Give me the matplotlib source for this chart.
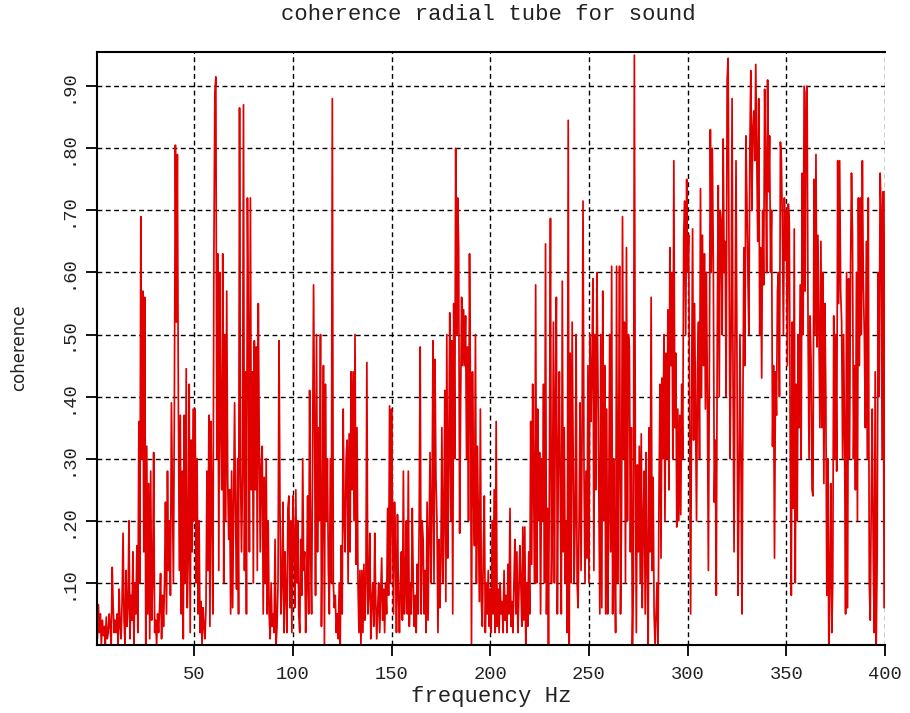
import numpy as np
import matplotlib
matplotlib.use("Agg")
import matplotlib.pyplot as plt

# coherence, 0.5 Hz steps, 10 Hz per row
coh_rows = [
    [0.06, 0.01, 0.065, 0.02, 0.05, 0.0, 0.04, 0.015, 0.03, 0.0, 0.045, 0.01, 0.02, 0.05, 0.03, 0.0, 0.125, 0.06, 0.02, 0.04],
    [0.02, 0.05, 0.0, 0.09, 0.03, 0.01, 0.07, 0.18, 0.04, 0.0, 0.12, 0.03, 0.06, 0.2, 0.01, 0.08, 0.04, 0.15, 0.0, 0.1],
    [0.05, 0.16, 0.02, 0.36, 0.1, 0.69, 0.3, 0.57, 0.15, 0.56, 0.0, 0.32, 0.05, 0.26, 0.01, 0.28, 0.04, 0.1, 0.31, 0.02],
    [0.04, 0.0, 0.05, 0.02, 0.06, 0.115, 0.01, 0.08, 0.03, 0.1, 0.23, 0.05, 0.28, 0.12, 0.2, 0.08, 0.39, 0.25, 0.1, 0.39],
    [0.805, 0.52, 0.79, 0.4, 0.12, 0.37, 0.05, 0.28, 0.01, 0.37, 0.1, 0.445, 0.06, 0.14, 0.42, 0.02, 0.33, 0.15, 0.38, 0.2],
    [0.38, 0.1, 0.3, 0.05, 0.2, 0.02, 0.07, 0.0, 0.06, 0.03, 0.01, 0.06, 0.28, 0.12, 0.37, 0.03, 0.36, 0.22, 0.05, 0.62],
    [0.89, 0.915, 0.3, 0.63, 0.12, 0.6, 0.35, 0.25, 0.63, 0.1, 0.5, 0.2, 0.57, 0.27, 0.17, 0.25, 0.05, 0.28, 0.06, 0.22],
    [0.39, 0.2, 0.09, 0.3, 0.05, 0.865, 0.28, 0.15, 0.27, 0.87, 0.12, 0.44, 0.05, 0.72, 0.5, 0.15, 0.72, 0.25, 0.44, 0.1],
    [0.49, 0.25, 0.48, 0.12, 0.55, 0.32, 0.15, 0.29, 0.32, 0.05, 0.27, 0.1, 0.3, 0.05, 0.2, 0.05, 0.01, 0.1, 0.03, 0.05],
    [0.02, 0.17, 0.0, 0.03, 0.1, 0.49, 0.22, 0.05, 0.1, 0.23, 0.02, 0.15, 0.08, 0.02, 0.22, 0.24, 0.06, 0.2, 0.02, 0.24],
    [0.18, 0.06, 0.25, 0.1, 0.2, 0.05, 0.02, 0.17, 0.08, 0.3, 0.12, 0.15, 0.02, 0.1, 0.24, 0.05, 0.41, 0.15, 0.05, 0.3],
    [0.58, 0.35, 0.08, 0.5, 0.15, 0.35, 0.2, 0.5, 0.03, 0.2, 0.45, 0.0, 0.42, 0.2, 0.3, 0.12, 0.05, 0.3, 0.1, 0.88],
    [0.1, 0.06, 0.08, 0.02, 0.05, 0.01, 0.1, 0.0, 0.16, 0.05, 0.38, 0.2, 0.15, 0.3, 0.33, 0.1, 0.34, 0.15, 0.44, 0.25],
    [0.44, 0.2, 0.5, 0.13, 0.35, 0.1, 0.02, 0.12, 0.0, 0.12, 0.02, 0.13, 0.04, 0.1, 0.455, 0.05, 0.08, 0.18, 0.01, 0.07],
    [0.1, 0.03, 0.18, 0.07, 0.01, 0.06, 0.1, 0.02, 0.08, 0.14, 0.04, 0.09, 0.02, 0.1, 0.05, 0.22, 0.08, 0.385, 0.1, 0.38],
    [0.2, 0.05, 0.23, 0.15, 0.02, 0.21, 0.08, 0.02, 0.1, 0.15, 0.04, 0.28, 0.05, 0.1, 0.2, 0.05, 0.28, 0.03, 0.1, 0.05],
    [0.22, 0.1, 0.03, 0.08, 0.02, 0.13, 0.05, 0.2, 0.48, 0.05, 0.2, 0.17, 0.05, 0.12, 0.02, 0.23, 0.04, 0.18, 0.31, 0.1],
    [0.22, 0.49, 0.1, 0.46, 0.27, 0.2, 0.02, 0.17, 0.06, 0.14, 0.35, 0.1, 0.2, 0.41, 0.07, 0.5, 0.14, 0.3, 0.535, 0.2],
    [0.49, 0.05, 0.55, 0.3, 0.8, 0.5, 0.72, 0.64, 0.18, 0.39, 0.56, 0.45, 0.54, 0.45, 0.53, 0.3, 0.48, 0.2, 0.63, 0.4],
    [0.0, 0.44, 0.25, 0.16, 0.5, 0.1, 0.32, 0.2, 0.07, 0.38, 0.07, 0.03, 0.15, 0.24, 0.02, 0.1, 0.05, 0.12, 0.03, 0.09],
    [0.02, 0.2, 0.05, 0.25, 0.02, 0.36, 0.03, 0.09, 0.02, 0.1, 0.05, 0.07, 0.02, 0.12, 0.04, 0.08, 0.02, 0.13, 0.05, 0.22],
    [0.03, 0.07, 0.02, 0.1, 0.17, 0.05, 0.15, 0.02, 0.08, 0.16, 0.1, 0.03, 0.19, 0.04, 0.19, 0.0, 0.1, 0.03, 0.15, 0.05],
    [0.36, 0.13, 0.42, 0.25, 0.1, 0.58, 0.1, 0.38, 0.2, 0.31, 0.05, 0.3, 0.2, 0.42, 0.1, 0.646, 0.05, 0.22, 0.0, 0.3],
    [0.687, 0.1, 0.2, 0.52, 0.1, 0.4, 0.56, 0.05, 0.3, 0.44, 0.23, 0.05, 0.586, 0.15, 0.35, 0.1, 0.2, 0.02, 0.845, 0.0],
    [0.47, 0.1, 0.52, 0.3, 0.1, 0.2, 0.5, 0.1, 0.06, 0.2, 0.39, 0.12, 0.33, 0.715, 0.28, 0.1, 0.28, 0.14, 0.45, 0.1],
    [0.5, 0.36, 0.45, 0.59, 0.12, 0.5, 0.25, 0.6, 0.45, 0.25, 0.05, 0.5, 0.06, 0.57, 0.2, 0.45, 0.05, 0.38, 0.05, 0.2],
    [0.5, 0.15, 0.61, 0.05, 0.3, 0.15, 0.02, 0.61, 0.1, 0.3, 0.61, 0.05, 0.2, 0.69, 0.3, 0.52, 0.1, 0.64, 0.2, 0.5],
    [0.48, 0.15, 0.35, 0.0, 0.1, 0.95, 0.3, 0.02, 0.29, 0.15, 0.32, 0.1, 0.34, 0.06, 0.2, 0.28, 0.05, 0.31, 0.12, 0.0],
    [0.35, 0.15, 0.56, 0.12, 0.27, 0.05, 0.0, 0.05, 0.1, 0.0, 0.25, 0.42, 0.14, 0.43, 0.3, 0.5, 0.2, 0.47, 0.3, 0.54],
    [0.25, 0.64, 0.45, 0.6, 0.3, 0.78, 0.35, 0.47, 0.19, 0.38, 0.2, 0.37, 0.21, 0.42, 0.3, 0.66, 0.715, 0.5, 0.75, 0.6],
    [0.66, 0.35, 0.05, 0.4, 0.67, 0.33, 0.55, 0.38, 0.2, 0.45, 0.52, 0.3, 0.735, 0.4, 0.66, 0.45, 0.63, 0.38, 0.6, 0.4],
    [0.12, 0.45, 0.83, 0.6, 0.8, 0.62, 0.23, 0.33, 0.08, 0.5, 0.74, 0.4, 0.7, 0.68, 0.5, 0.815, 0.6, 0.65, 0.4, 0.91],
    [0.945, 0.6, 0.3, 0.5, 0.88, 0.42, 0.15, 0.5, 0.78, 0.45, 0.08, 0.25, 0.5, 0.3, 0.05, 0.4, 0.64, 0.45, 0.82, 0.72],
    [0.6, 0.5, 0.8, 0.925, 0.7, 0.83, 0.86, 0.78, 0.935, 0.8, 0.65, 0.88, 0.5, 0.64, 0.43, 0.7, 0.58, 0.895, 0.78, 0.6],
    [0.91, 0.73, 0.82, 0.6, 0.7, 0.32, 0.45, 0.14, 0.44, 0.37, 0.57, 0.6, 0.4, 0.81, 0.78, 0.67, 0.5, 0.72, 0.62, 0.7],
    [0.45, 0.71, 0.68, 0.29, 0.08, 0.52, 0.22, 0.67, 0.1, 0.42, 0.2, 0.5, 0.35, 0.58, 0.3, 0.76, 0.5, 0.9, 0.57, 0.89],
    [0.9, 0.5, 0.3, 0.53, 0.46, 0.25, 0.24, 0.75, 0.5, 0.79, 0.48, 0.66, 0.5, 0.35, 0.65, 0.35, 0.6, 0.26, 0.55, 0.4],
    [0.08, 0.3, 0.0, 0.1, 0.26, 0.02, 0.1, 0.53, 0.3, 0.5, 0.28, 0.78, 0.55, 0.78, 0.57, 0.52, 0.3, 0.5, 0.33, 0.05],
    [0.6, 0.06, 0.59, 0.3, 0.6, 0.76, 0.66, 0.3, 0.45, 0.25, 0.6, 0.2, 0.72, 0.45, 0.72, 0.5, 0.78, 0.58, 0.5, 0.35],
    [0.65, 0.3, 0.72, 0.1, 0.04, 0.23, 0.38, 0.15, 0.02, 0.44, 0.0, 0.14, 0.6, 0.4, 0.76, 0.7, 0.3, 0.73, 0.06, 0.73],
]
coherence = np.concatenate(coh_rows)
freq_step = 0.5
freq = freq_step * np.arange(1, len(coherence) + 1)

x_ticks = [50, 100, 150, 200, 250, 300, 350, 400]
y_ticks = [0.1, 0.2, 0.3, 0.4, 0.5, 0.6, 0.7, 0.8, 0.9]
y_tick_labels = [".10", ".20", ".30", ".40", ".50", ".60", ".70", ".80", ".90"]

mono = ["Liberation Mono", "DejaVu Sans Mono"]
narrow = ["Liberation Sans Narrow", "DejaVu Sans"]

fig = plt.figure(figsize=(9.1, 7.13), dpi=100)
ax = fig.add_axes([0.1066, 0.0954, 0.866, 0.8316])

ax.plot(freq, coherence, color="#e00000", lw=1.25)

ax.set_xlim(0.8, 400)
ax.set_ylim(0, 0.955)
ax.set_xticks(x_ticks)
ax.set_xticklabels([str(t) for t in x_ticks], family=mono, fontsize=13.5, color="#222222")
ax.set_yticks(y_ticks)
ax.set_yticklabels(y_tick_labels, family=mono, fontsize=13.5, rotation=90, va="center", color="#222222")
ax.tick_params(direction="out", length=8, width=1.3, color="black", pad=7)

ax.grid(True, color="black", ls=(0, (3.5, 2.5)), lw=1.0)
ax.set_axisbelow(True)
for side in ["left", "bottom", "top"]:
    ax.spines[side].set_linewidth(1.5)
ax.spines["right"].set_visible(False)

ax.set_xlabel("frequency Hz", family=mono, fontsize=16, labelpad=2, color="#222222")
fig.text(19 / 910, 1 - 348 / 713, "coherence", family=narrow, fontsize=12,
         rotation=90, ha="center", va="center", color="#222222")
fig.text(0.537, 1 - 15 / 713, "coherence radial tube for sound", family=mono,
         fontsize=16, ha="center", va="center", color="#222222")

fig.savefig("out.png", dpi=100)
